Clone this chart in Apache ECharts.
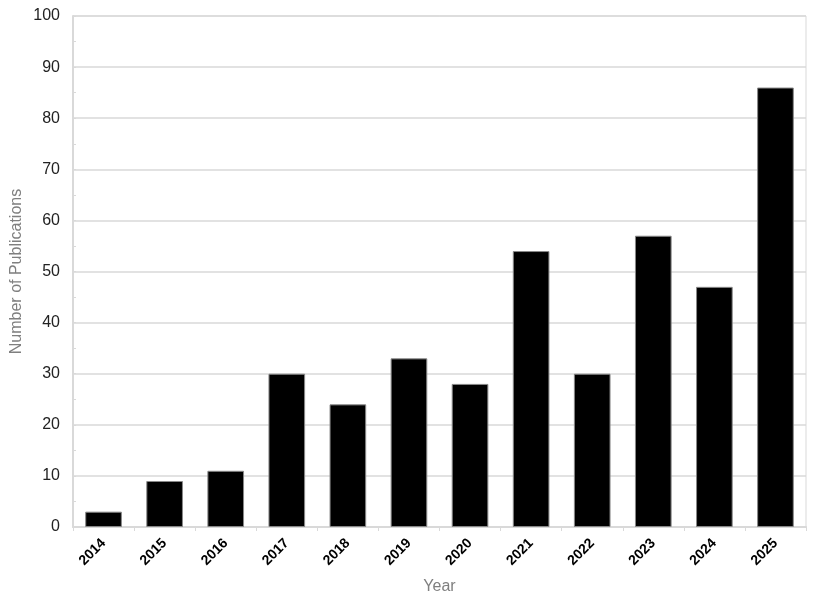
<!DOCTYPE html>
<html>
<head>
<meta charset="utf-8">
<script src="https://cdn.jsdelivr.net/npm/echarts@6/dist/echarts.min.js"></script>
<style>
  html, body { margin: 0; padding: 0; background: #fff; }
  #chart { width: 815px; height: 601px; }
</style>
</head>
<body>
<div id="chart"></div>
<script>
// publications per year
const years = ['2014', '2015', '2016', '2017', '2018', '2019', '2020', '2021', '2022', '2023', '2024', '2025']
const counts = [3, 9, 11, 30, 24, 33, 28, 54, 30, 57, 47, 86]

const lineGrey = '#d9d9d9'

let chart = echarts.init(document.getElementById('chart'))
chart.setOption({
  animation: false,
  grid: {
    left: 73,
    right: 9,
    top: 16,
    bottom: 74,
    outerBoundsMode: 'none',
    containLabel: false,
    show: true,
    borderColor: lineGrey,
    borderWidth: 1
  },
  xAxis: {
    type: 'category',
    data: years,
    name: 'Year',
    nameLocation: 'middle',
    nameGap: 52,
    nameTextStyle: { color: '#7f7f7f', fontSize: 16, fontFamily: 'Liberation Sans' },
    axisLine: { lineStyle: { color: lineGrey, width: 2 } },
    axisTick: { show: true, length: 4, lineStyle: { color: lineGrey } },
    axisLabel: {
      rotate: 45,
      color: '#000',
      fontWeight: 'bold',
      fontSize: 14,
      fontFamily: 'Liberation Sans',
      margin: 14
    }
  },
  yAxis: {
    type: 'value',
    min: 0,
    max: 100,
    interval: 10,
    name: 'Number of Publications',
    nameLocation: 'middle',
    nameGap: 48,
    nameMoveOverlap: false,
    nameTextStyle: { color: '#7f7f7f', fontSize: 16, fontFamily: 'Liberation Sans' },
    axisLine: { show: true, lineStyle: { color: lineGrey, width: 2 } },
    axisTick: { show: true, inside: true, length: 3, lineStyle: { color: lineGrey } },
    minorTick: { show: true, splitNumber: 2, length: 3, lineStyle: { color: lineGrey } },
    axisLabel: { color: '#222', fontSize: 16, fontFamily: 'Liberation Sans', margin: 13 },
    splitLine: { lineStyle: { color: lineGrey, width: 1.5 } }
  },
  series: [
    {
      type: 'bar',
      data: counts,
      barWidth: '60%',
      itemStyle: { color: '#000', borderColor: '#888', borderWidth: 1 }
    }
  ]
})
</script>
</body>
</html>
